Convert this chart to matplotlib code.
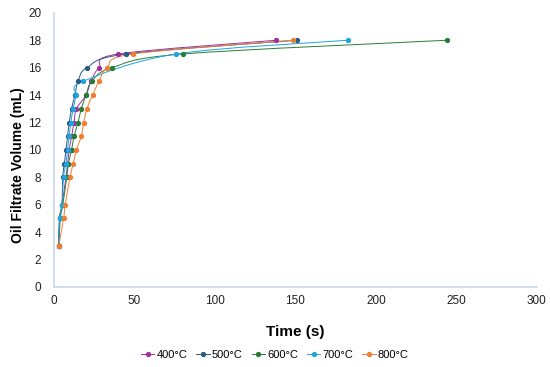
import numpy as np
import matplotlib
matplotlib.use("Agg")
import matplotlib.pyplot as plt
from matplotlib.path import Path
from matplotlib.patches import PathPatch
from matplotlib.lines import Line2D

plt.rcParams['font.family'] = ['Liberation Sans', 'DejaVu Sans']

# filtrate volume (mL) vs time (s) for each temperature
labels = ['400°C', '500°C', '600°C', '700°C', '800°C']
colors = ['#a1309e', '#2a5b86', '#2b7b38', '#1ea5dc', '#ef7e33']

vol_400 = [3, 5, 6, 8, 9, 10, 11, 12, 13, 14, 15, 16, 17, 18]
t_400 = [3, 3.5, 5, 7.5, 8.5, 9.5, 11, 12.5, 14, 20, 23, 28, 40, 138]

vol_500 = [3, 5, 6, 8, 9, 10, 11, 12, 13, 14, 15, 16, 17, 18]
t_500 = [3, 3.5, 5, 5.5, 6.5, 7.5, 8.5, 9.5, 11, 13, 15, 20.5, 45, 151]

vol_600 = [3, 5, 6, 8, 9, 10, 11, 12, 13, 14, 15, 16, 17, 18]
t_600 = [3, 4, 5.5, 8, 9, 11, 12.5, 15, 17, 20, 23.5, 36, 80, 244]

vol_700 = [3, 5, 6, 8, 9, 10, 11, 12, 13, 14, 15, 17, 18]
t_700 = [3, 3.5, 5, 6, 7.5, 8.5, 9.5, 10.5, 12, 14, 18, 76, 182.5]

vol_800 = [3, 5, 6, 8, 9, 10, 11, 12, 13, 14, 15, 16, 17, 18]
t_800 = [3, 6, 7, 10, 12, 14, 17, 18.5, 20.5, 24, 28, 33, 49, 148.5]

series = [(t_400, vol_400), (t_500, vol_500), (t_600, vol_600),
          (t_700, vol_700), (t_800, vol_800)]


def smooth_path(x, y):
    # excel style smoothed line: bezier segments through the points
    p = np.column_stack([x, y]).astype(float)
    n = len(p)
    verts = [p[0]]
    codes = [Path.MOVETO]
    for i in range(n - 1):
        p0 = p[i - 1] if i > 0 else p[i]
        p1 = p[i]
        p2 = p[i + 1]
        p3 = p[i + 2] if i + 2 < n else p[i + 1]
        c1 = p1 + (p2 - p0) / 6.0
        c2 = p2 - (p3 - p1) / 6.0
        verts += [c1, c2, p2]
        codes += [Path.CURVE4] * 3
    return Path(verts, codes)


fig = plt.figure(figsize=(5.5, 3.67), dpi=100)
ax = fig.add_axes([0.098, 0.218, 0.878, 0.747])

handles = []
for (t, v), c, lab in zip(series, colors, labels):
    ax.add_patch(PathPatch(smooth_path(t, v), facecolor='none', edgecolor=c,
                           lw=0.7, transform=ax.transData))
    ax.plot(t, v, linestyle='none', marker='o', ms=2.8, color=c, zorder=3)
    handles.append(Line2D([0], [0], color=c, lw=0.7, marker='o', ms=2.8))

ax.set_xlim(0, 300)
ax.set_ylim(0, 20)
ax.set_xticks(np.arange(0, 301, 50))
ax.set_yticks(np.arange(0, 21, 2))
ax.tick_params(length=0, labelsize=8.5, colors='#222222')
ax.tick_params(axis='y', pad=9)
ax.tick_params(axis='x', pad=6)
for s in ['top', 'right']:
    ax.spines[s].set_visible(False)
for s in ['left', 'bottom']:
    ax.spines[s].set_color('#c9d6e6')
    ax.spines[s].set_linewidth(1.2)

ax.set_xlabel('Time (s)', fontsize=11, fontweight='bold', labelpad=13)
ax.set_ylabel('Oil Filtrate Volume (mL)', fontsize=10, fontweight='bold')
ax.yaxis.set_label_coords(-0.06, 0.445)

fig.legend(handles, labels, loc='center', bbox_to_anchor=(0.5, 0.032), ncol=5,
           frameon=False, fontsize=8, handlelength=1.2, handletextpad=0.2,
           columnspacing=0.8)

fig.savefig('out.png', dpi=100)
